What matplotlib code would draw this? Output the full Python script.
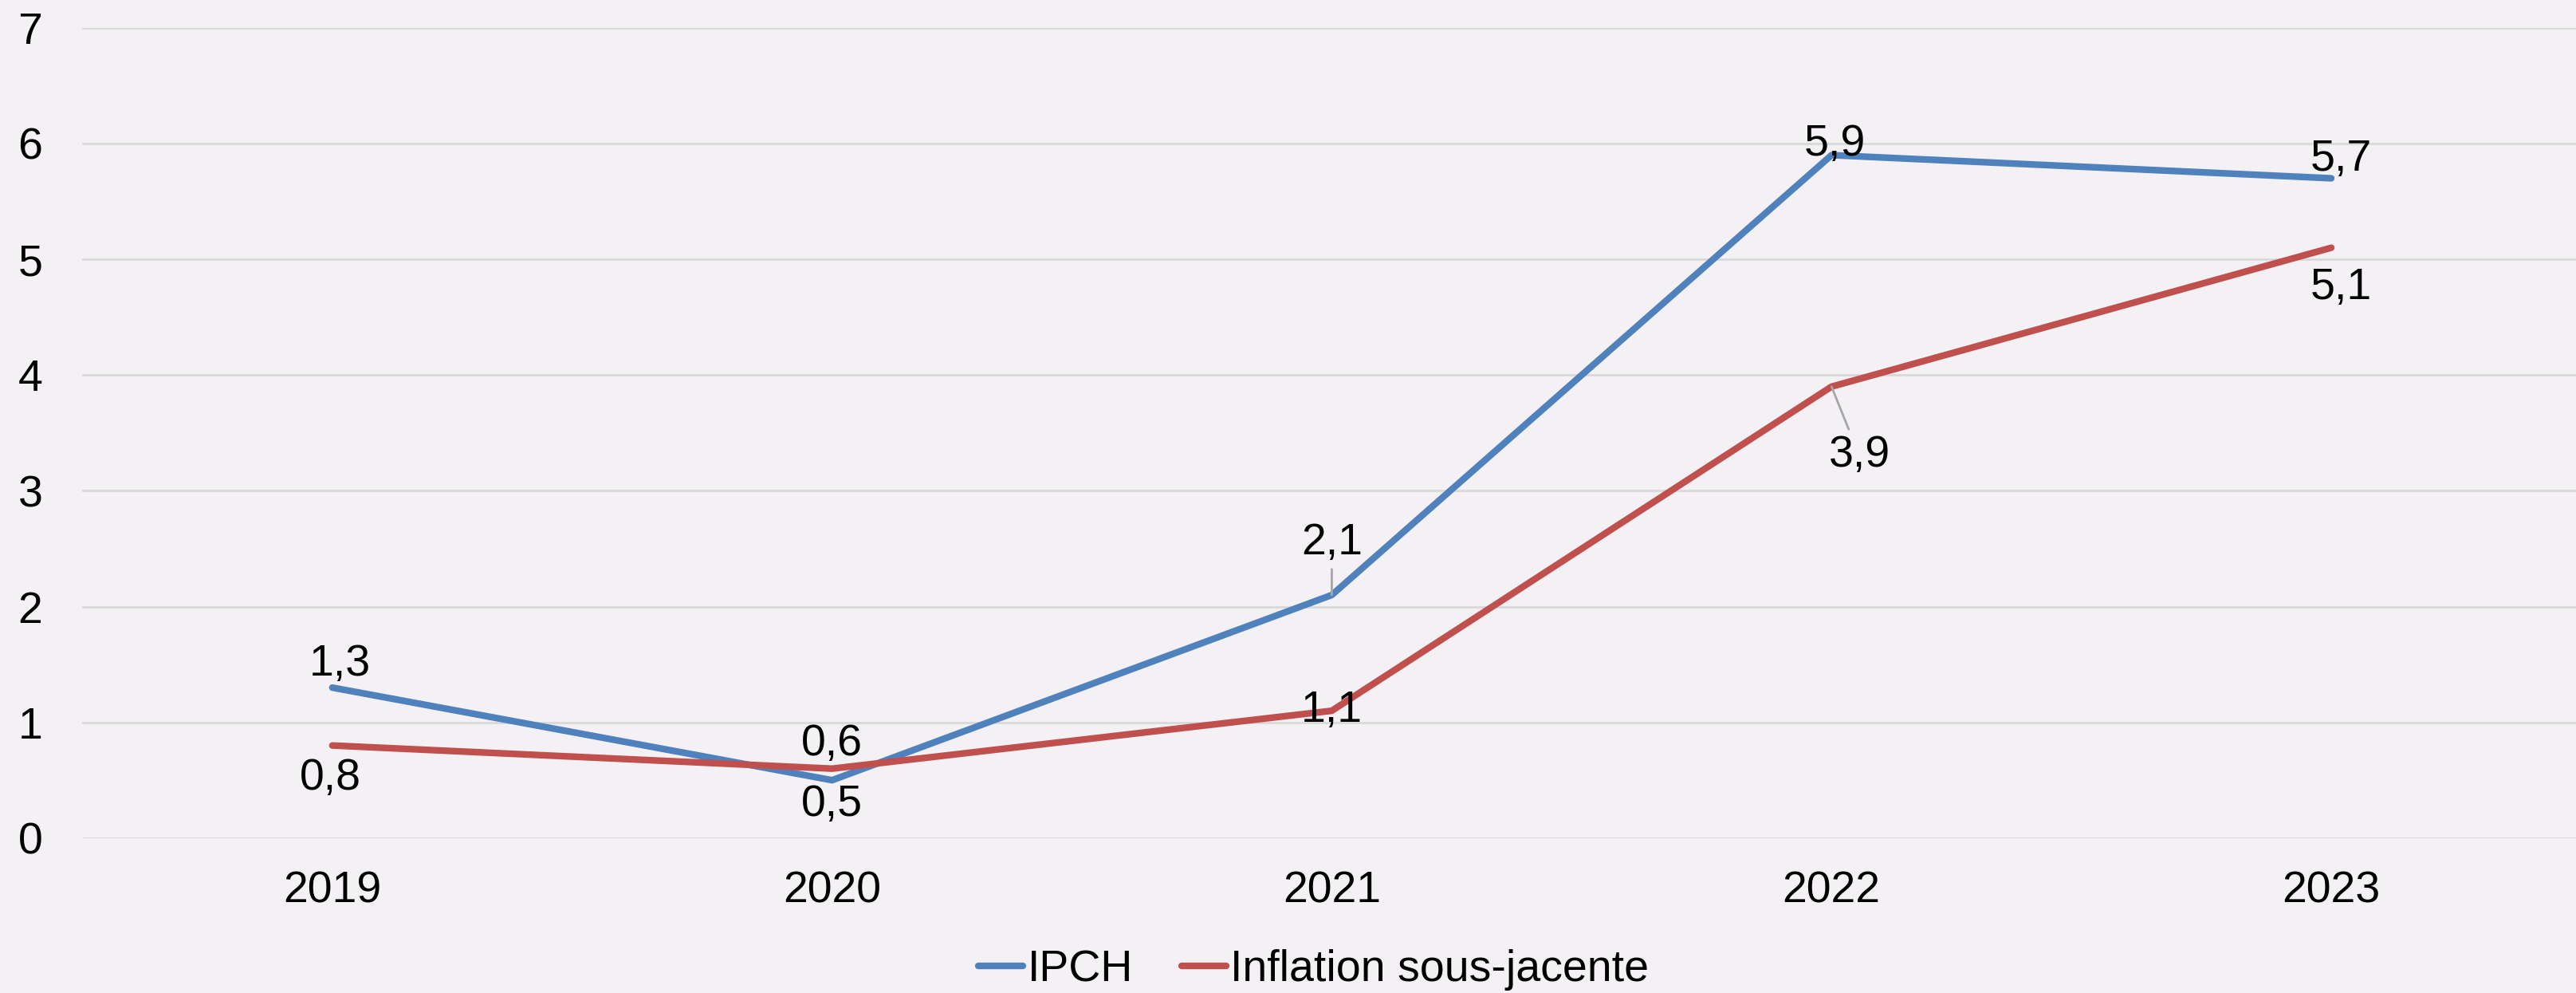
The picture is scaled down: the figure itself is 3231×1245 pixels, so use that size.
import numpy as np
import matplotlib.pyplot as plt

## Données ##
annees = ['2019', '2020', '2021', '2022', '2023']
ipch = [1.3, 0.5, 2.1, 5.9, 5.7]
sous_jacente = [0.8, 0.6, 1.1, 3.9, 5.1]

# décalage des étiquettes (points) : (dx, dy)
off_ipch = [(7, 21), (0, -22), (0, 47), (3, 10), (9, 17)]
off_sj = [(-2, -30), (0, 22), (0, 0), (25, -62), (9, -36)]
leader_ipch = [False, False, True, False, False]
leader_sj = [False, False, False, True, False]

plt.rcParams['font.family'] = ['Liberation Sans', 'DejaVu Sans']
fond = '#F3F1F4'
taille = 40

fig = plt.figure(figsize=(32.31, 12.45), dpi=100, facecolor=fond)
ax = fig.add_axes([0.032, 0.156, 0.970, 0.816], facecolor=fond)

x = np.arange(len(annees))
ax.plot(x, ipch, color='#4F81BD', lw=6, solid_capstyle='round', label='IPCH')
ax.plot(x, sous_jacente, color='#C0504D', lw=6, solid_capstyle='round',
        label='Inflation sous-jacente')


def etiquettes(valeurs, decalages, leaders):
    for i, v in enumerate(valeurs):
        dx, dy = decalages[i]
        txt = f'{v:.1f}'.replace('.', ',')
        if leaders[i]:
            ax.annotate(txt, (x[i], v), xytext=(dx, dy), textcoords='offset points',
                        ha='center', va='center', fontsize=taille,
                        arrowprops=dict(arrowstyle='-', color='#A6A6A6', lw=2,
                                        shrinkA=3, shrinkB=0))
        else:
            ax.annotate(txt, (x[i], v), xytext=(dx, dy), textcoords='offset points',
                        ha='center', va='center', fontsize=taille)


etiquettes(ipch, off_ipch, leader_ipch)
etiquettes(sous_jacente, off_sj, leader_sj)

ax.set_xlim(-0.5, len(annees) - 0.5)
ax.set_ylim(0, 7)
ax.set_yticks(range(0, 8))
ax.set_xticks(x)
ax.set_xticklabels(annees)
ax.tick_params(axis='both', length=0, labelsize=taille)
ax.tick_params(axis='x', pad=29)
ax.tick_params(axis='y', pad=36)
ax.grid(axis='y', color='#D9D9D9', lw=2)
ax.set_axisbelow(True)
for s in ax.spines.values():
    s.set_visible(False)

fig.legend(loc='lower center', bbox_to_anchor=(0.51, -0.038), ncol=2, frameon=False,
           fontsize=taille, handlelength=1.0, handletextpad=0.1, columnspacing=1.1)

fig.savefig('out.png', dpi=100, facecolor=fond)
